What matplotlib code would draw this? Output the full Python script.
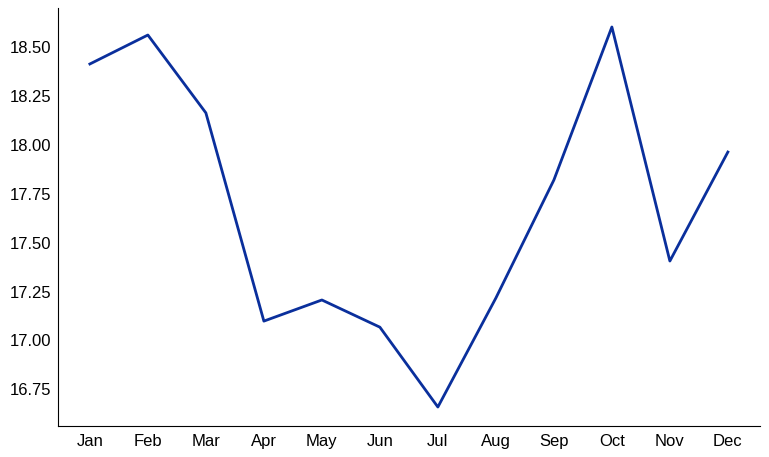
import matplotlib
matplotlib.use('Agg')
import matplotlib.pyplot as plt

plt.rcParams['font.family'] = ['Liberation Sans', 'DejaVu Sans']

months = ['Jan', 'Feb', 'Mar', 'Apr', 'May', 'Jun',
          'Jul', 'Aug', 'Sep', 'Oct', 'Nov', 'Dec']
values = [18.413, 18.561, 18.163, 17.099, 17.207, 17.068,
          16.660, 17.217, 17.820, 18.602, 17.406, 17.963]

fig = plt.figure(figsize=(7.69, 4.57), dpi=100)
ax = fig.add_axes([0.0754, 0.0678, 0.9126, 0.9147])

ax.plot(range(len(months)), values, color='#0a2f9c', linewidth=2)

ax.set_xticks(range(len(months)))
ax.set_xticklabels(months)
ax.yaxis.set_major_formatter(matplotlib.ticker.FormatStrFormatter('%.2f'))
ax.tick_params(axis='both', length=0, labelsize=12)
ax.tick_params(axis='y', pad=5)
ax.tick_params(axis='x', pad=6)

for side in ['top', 'right']:
    ax.spines[side].set_visible(False)

fig.savefig('out.png', dpi=100)
